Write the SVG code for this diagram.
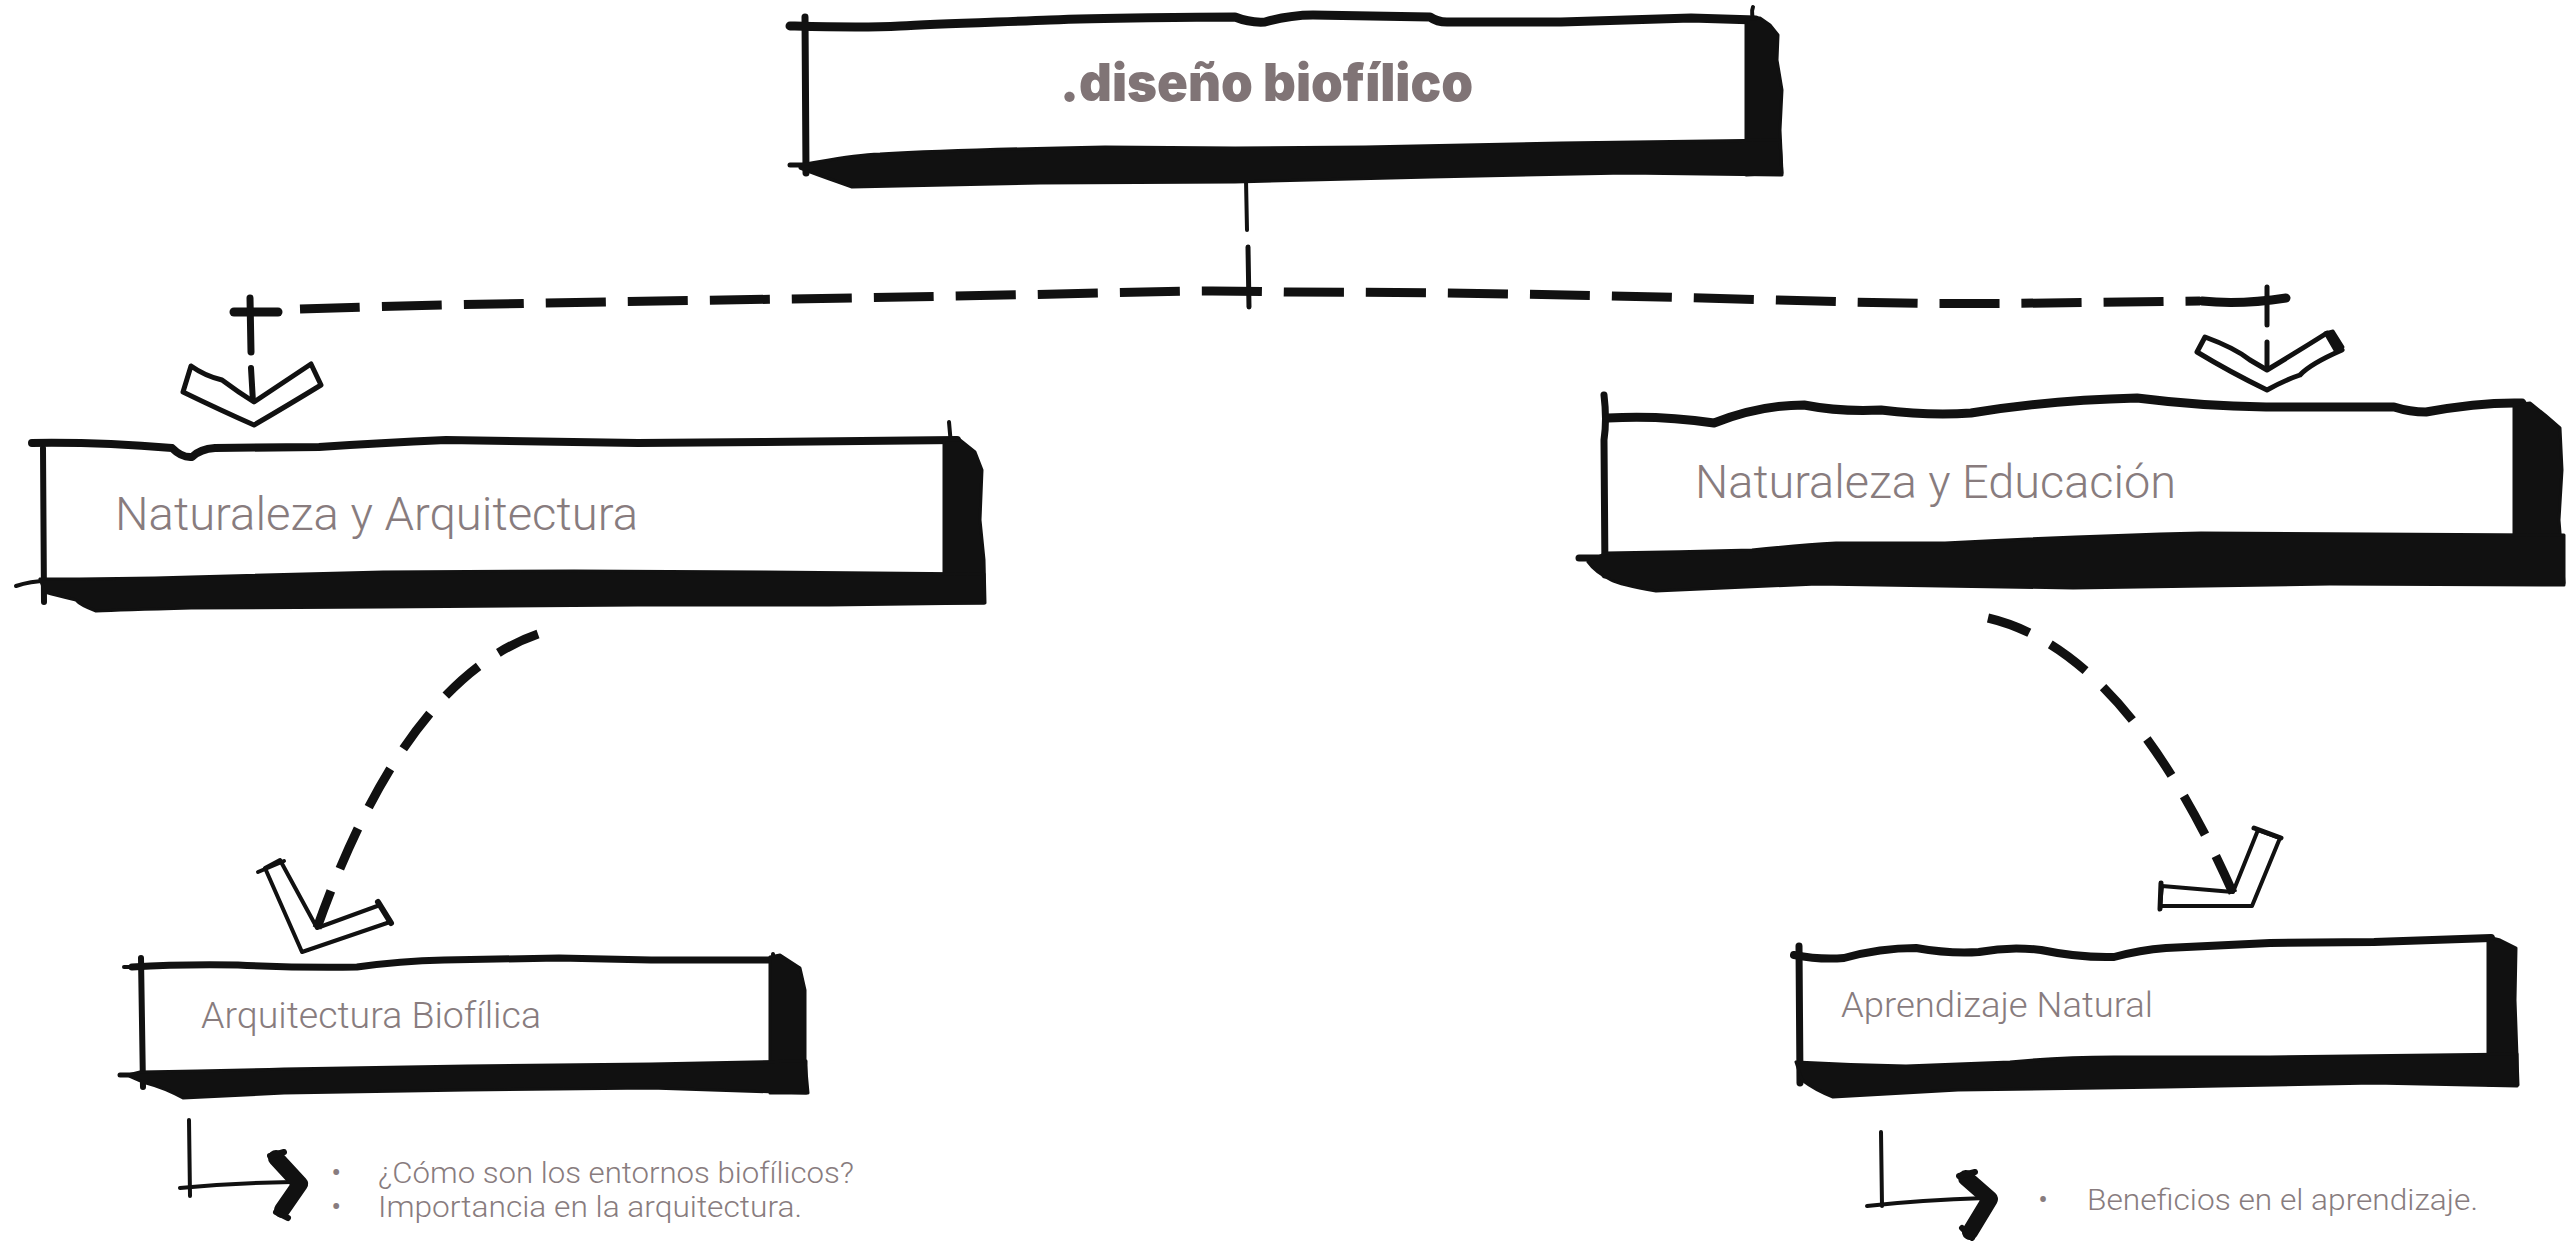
<svg xmlns="http://www.w3.org/2000/svg" width="2566" height="1241" viewBox="0 0 2566 1241">
  <style>
    .ink { fill: none; stroke: #111; stroke-linecap: round; stroke-linejoin: round; }
    .blk { fill: #111; stroke: #111; stroke-width: 3; stroke-linejoin: round; }
    .hollow { fill: #fff; stroke: #111; stroke-width: 5; stroke-linejoin: round; stroke-linecap: round; }
    .dash { fill: none; stroke: #111; stroke-width: 9; stroke-linecap: butt; }
    .title { font-family: Inter, "Liberation Sans", sans-serif; font-weight: 900; fill: #807476; }
    .label { font-family: Roboto, "Liberation Sans", sans-serif; font-weight: 300; fill: #887c7e; }
  </style>
  <rect width="2566" height="1241" fill="#fff"/>

  <!-- connectors -->
  <g id="connectors">
    <!-- stem from the title box -->
    <path class="ink" stroke-width="4" d="M1246 180 L1247 230"/>
    <path class="ink" stroke-width="5" d="M1248 247 L1249 307"/>

    <!-- horizontal dashed branch -->
    <path class="ink" stroke-width="9" stroke-linecap="butt" d="M234 312 L278 312"/>
    <path class="ink" stroke-width="7" d="M250 298 L251 352"/>
    <path class="dash" stroke-dasharray="60 22" d="M300 309 C500 302 800 300 1100 293 C1200 290 1240 291 1287 292 C1500 292 1700 298 1850 302 C1950 305 2050 303 2200 301"/>
    <path class="ink" stroke-width="9" stroke-linecap="butt" d="M2202 301 Q2240 305 2286 298"/>
    <path class="ink" stroke-width="5" d="M2267 287 L2267 325"/>

    <!-- left drop arrow -->
    <path class="ink" stroke-width="6" d="M251 368 L253 402"/>
    <path class="hollow" d="M191 366 Q205 376 222 380 Q238 392 254 402 L311 364 L321 385 Q290 404 254 425 Q220 410 183 392 Z"/>

    <!-- right drop arrow -->
    <path class="ink" stroke-width="5" d="M2267 342 L2267 370"/>
    <path class="hollow" d="M2205 337 Q2235 348 2250 360 L2267 370 Q2300 350 2327 333 L2342 350 Q2310 364 2300 375 Q2285 380 2267 390 Q2230 372 2197 352 Z"/>
    <path class="blk" d="M2325 333 L2333 331 L2343 347 L2336 352 Z"/>

    <!-- curved dashed link to Arquitectura Biofílica -->
    <path class="dash" stroke-dasharray="44 24" d="M538 634 Q405 680 317 928"/>
    <path class="ink" stroke-width="4" d="M280 860 L317 928 L380 905 L390 922 L302 952 L265 868 Z"/>
    <path class="ink" stroke-width="4" d="M258 872 L284 861"/>
    <path class="ink" stroke-width="6" d="M378 902 L391 923"/>

    <!-- curved dashed link to Aprendizaje Natural -->
    <path class="dash" stroke-dasharray="44 24" d="M1988 618 Q2125 650 2233 893"/>
    <path class="ink" stroke-width="4" d="M2162 886 L2233 892 L2258 830 L2280 838 L2252 906 L2160 906 Z"/>
    <path class="ink" stroke-width="5" d="M2161 883 L2160 909"/>
    <path class="ink" stroke-width="5" d="M2254 828 L2281 838"/>

    <!-- bullet pointers -->
    <path class="ink" stroke-width="4" d="M189 1120 L190 1196"/>
    <path class="ink" stroke-width="4" d="M180 1188 Q230 1183 292 1182"/>
    <path class="ink" stroke-width="16" stroke-linejoin="miter" d="M276 1158 L300 1184 L282 1210"/>
    <path class="ink" stroke-width="6" d="M270 1156 L284 1152 M276 1212 L288 1218"/>

    <path class="ink" stroke-width="4" d="M1881 1132 L1882 1206"/>
    <path class="ink" stroke-width="4" d="M1867 1206 Q1920 1200 1986 1198"/>
    <path class="ink" stroke-width="16" stroke-linejoin="miter" d="M1966 1178 L1990 1199 L1970 1232"/>
    <path class="ink" stroke-width="6" d="M1959 1176 L1975 1172 M1962 1228 L1972 1238"/>
  </g>

  <!-- title box -->
  <g id="node-diseno">
    <path class="ink" stroke-width="7" d="M805 17 L806 173"/>
    <path class="ink" stroke-width="5" d="M790 165 L808 165"/>
    <path class="ink" stroke-width="9" d="M790 26 C830 27 865 28 900 26 S1000 22 1050 20 S1200 17 1235 17 Q1250 23 1265 22 Q1290 15 1313 15 L1430 17 Q1437 22 1447 22 L1561 22 Q1650 19 1691 18 L1756 20"/>
    <path class="ink" stroke-width="4" d="M1753 7 Q1750 14 1756 25"/>
    <path class="blk" d="M1746 20 L1760 18 L1770 25 L1778 35 L1777 60 L1782 90 L1780 130 L1782 173 L1746 175 Z"/>
    <path class="blk" d="M800 165 C830 160 850 155 880 154 C950 150 1050 148 1105 147 L1235 148 L1365 147 L1561 143 L1780 140 L1782 175 L1626 173 L1431 177 L1235 182 L1040 183 L852 187 L838 182 Q815 174 800 168 Z"/>
    <text class="title" x="1060" y="101" font-size="52" textLength="413" lengthAdjust="spacingAndGlyphs">.diseño biofílico</text>
  </g>

  <!-- Naturaleza y Arquitectura -->
  <g id="node-naturaleza-arquitectura">
    <path class="ink" stroke-width="6" d="M43 448 L44 602"/>
    <path class="ink" stroke-width="4" d="M16 586 Q30 581 48 581"/>
    <path class="ink" stroke-width="8" d="M32 443 Q100 442 172 448 Q182 458 192 457 Q200 449 215 448 L319 447 Q380 443 446 440 L638 443 L765 442 L957 440"/>
    <path class="ink" stroke-width="4" d="M949 422 L951 445"/>
    <path class="blk" d="M944 440 L960 440 L975 452 L982 470 L980 520 L984 560 L985 603 L944 603 Z"/>
    <path class="blk" d="M40 579 Q120 579 191 577 L383 572 L574 571 L765 572 L984 574 L984 603 L829 605 L638 605 L383 607 L191 608 Q120 610 96 611 Q80 605 76 600 Q55 595 45 592 Z"/>
    <text class="label" x="115" y="530" font-size="46" textLength="523" lengthAdjust="spacingAndGlyphs">Naturaleza y Arquitectura</text>
  </g>

  <!-- Naturaleza y Educación -->
  <g id="node-naturaleza-educacion">
    <path class="ink" stroke-width="7" d="M1604 395 Q1607 420 1604 440 L1605 575"/>
    <path class="ink" stroke-width="7" d="M1579 558 L1608 558"/>
    <path class="ink" stroke-width="9" d="M1608 418 Q1660 415 1714 423 Q1760 405 1804 405 Q1840 412 1881 410 Q1930 416 1971 413 Q2050 400 2137 398 Q2200 406 2266 407 L2394 407 Q2410 412 2426 412 Q2480 402 2522 403"/>
    <path class="blk" d="M2514 405 L2530 403 L2545 415 L2560 428 L2562 470 L2559 520 L2564 583 L2514 583 Z"/>
    <path class="blk" d="M1606 553 Q1680 552 1752 550 Q1800 545 1836 543 L1945 543 Q2080 536 2201 533 L2564 535 L2564 585 L2330 584 L2073 588 L1817 584 L1656 591 Q1620 585 1611 580 Q1595 572 1588 562 Z"/>
    <text class="label" x="1695" y="498" font-size="46" textLength="481" lengthAdjust="spacingAndGlyphs">Naturaleza y Educación</text>
  </g>

  <!-- Arquitectura Biofílica -->
  <g id="node-arquitectura-biofilica">
    <path class="ink" stroke-width="6" d="M141 958 L143 1087"/>
    <path class="ink" stroke-width="4" d="M124 967 L145 967"/>
    <path class="ink" stroke-width="5" d="M120 1075 L150 1075"/>
    <path class="ink" stroke-width="7" d="M132 967 Q180 964 238 965 Q300 968 357 967 Q400 961 444 960 L559 958 L651 960 L775 960"/>
    <path class="ink" stroke-width="4" d="M773 954 L774 962"/>
    <path class="blk" d="M770 957 L780 955 L800 968 L805 990 L805 1060 L808 1093 L770 1093 Z"/>
    <path class="blk" d="M140 1072 Q210 1071 284 1069 L467 1066 L651 1064 L806 1061 L806 1093 L651 1088 L467 1090 L284 1093 L183 1098 Q165 1088 146 1083 Q132 1078 128 1075 Z"/>
    <text class="label" x="201" y="1028" font-size="37" textLength="340" lengthAdjust="spacingAndGlyphs">Arquitectura Biofílica</text>
    <text class="label" x="331" y="1183" font-size="32">•</text>
    <text class="label" x="378" y="1183" font-size="30" textLength="476" lengthAdjust="spacingAndGlyphs">¿Cómo son los entornos biofílicos?</text>
    <text class="label" x="331" y="1217" font-size="32">•</text>
    <text class="label" x="378" y="1217" font-size="30" textLength="424" lengthAdjust="spacingAndGlyphs">Importancia en la arquitectura.</text>
  </g>

  <!-- Aprendizaje Natural -->
  <g id="node-aprendizaje-natural">
    <path class="ink" stroke-width="7" d="M1799 946 L1800 1083"/>
    <path class="ink" stroke-width="8" d="M1794 955 Q1820 960 1844 958 Q1880 948 1916 948 Q1950 954 1979 952 Q2010 946 2041 950 Q2080 958 2114 957 Q2140 950 2166 948 L2270 943 L2374 942 L2491 938"/>
    <path class="blk" d="M2488 937 L2500 940 L2516 948 L2515 1000 L2518 1085 L2488 1085 Z"/>
    <path class="blk" d="M1796 1062 Q1850 1065 1906 1066 Q1960 1064 2010 1062 Q2060 1057 2114 1057 L2270 1057 L2517 1054 L2517 1086 L2374 1083 L2166 1087 L1958 1090 L1833 1097 Q1815 1090 1802 1080 Z"/>
    <text class="label" x="1841" y="1017" font-size="35" textLength="312" lengthAdjust="spacingAndGlyphs">Aprendizaje Natural</text>
    <text class="label" x="2038" y="1210" font-size="31">•</text>
    <text class="label" x="2087" y="1210" font-size="29" textLength="391" lengthAdjust="spacingAndGlyphs">Beneficios en el aprendizaje.</text>
  </g>
</svg>
